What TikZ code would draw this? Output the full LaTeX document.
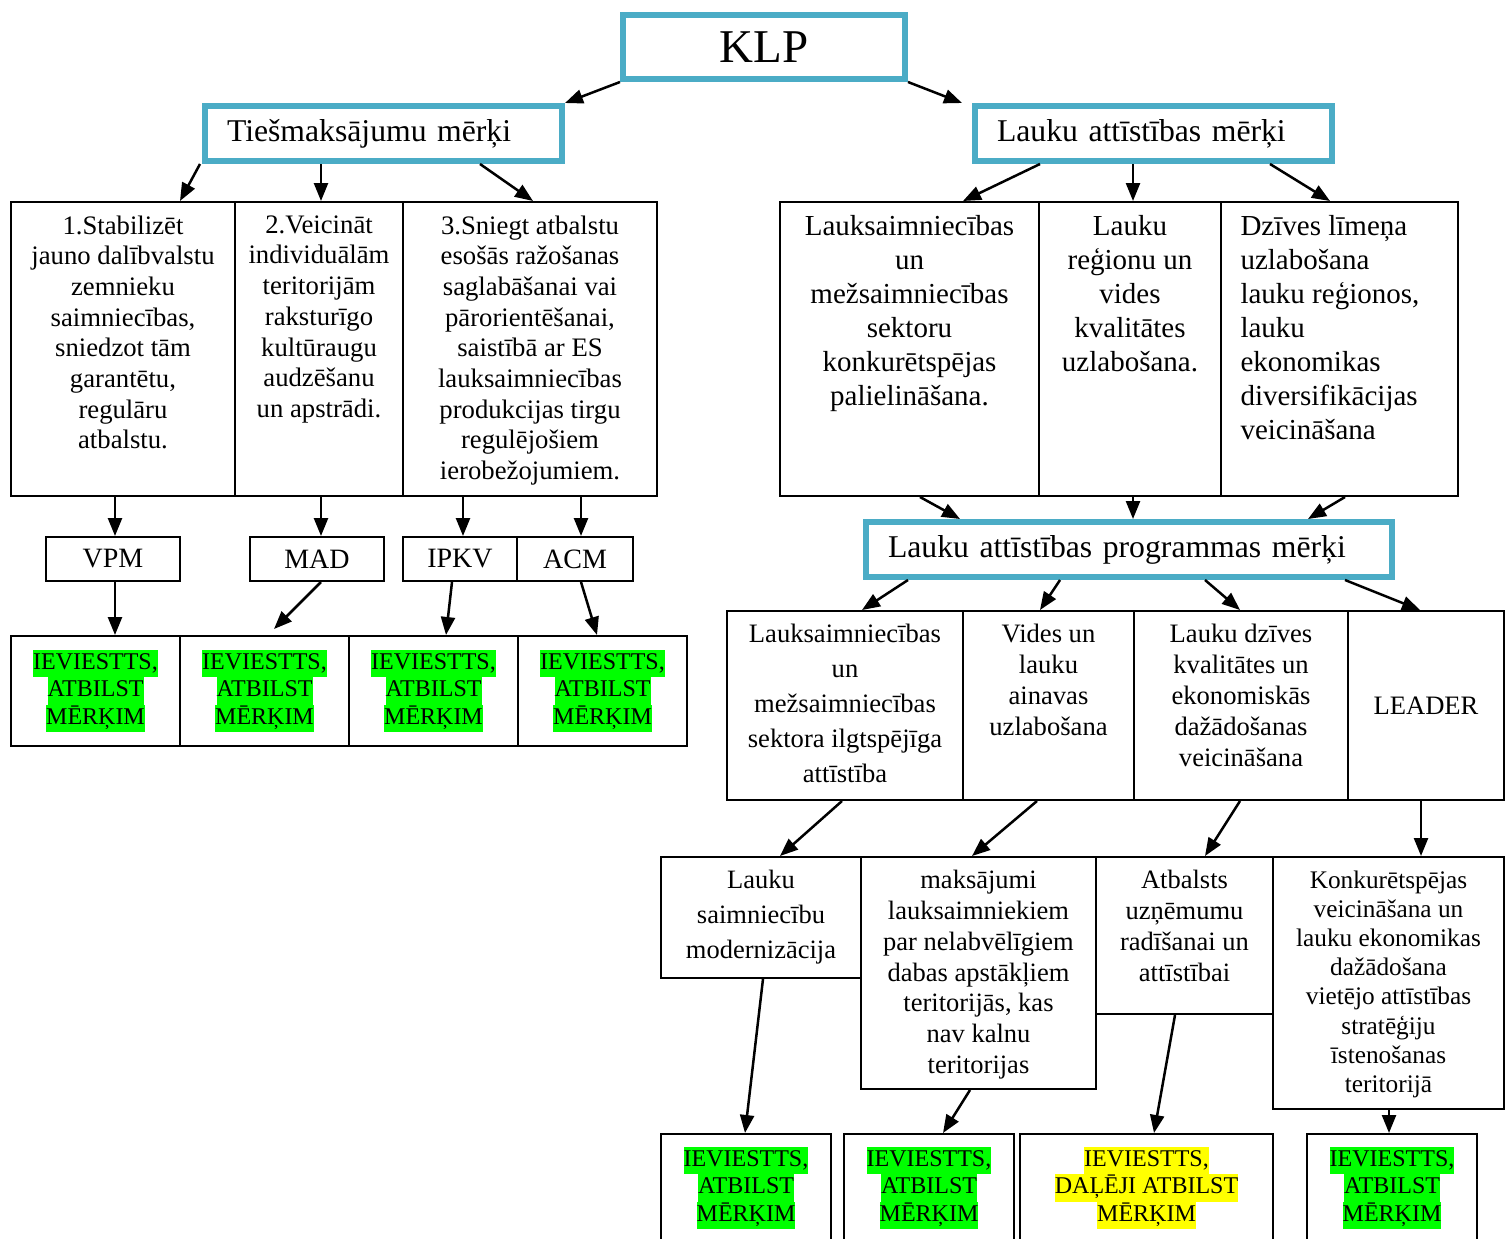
\documentclass[tikz,border=0pt]{standalone}
\usepackage{fontspec}
\setmainfont{Liberation Serif}
\usepackage{xcolor}
\usetikzlibrary{arrows.meta}

\definecolor{klpblue}{RGB}{75,172,198}
\definecolor{hlgreen}{RGB}{0,255,0}
\definecolor{hlyellow}{RGB}{255,255,0}

\newcommand{\hlg}[1]{{\setlength{\fboxsep}{0pt}\colorbox{hlgreen}{\strut #1}}}
\newcommand{\hly}[1]{{\setlength{\fboxsep}{0pt}\colorbox{hlyellow}{\strut #1}}}

\begin{document}
\begin{tikzpicture}[x=1pt, y=-1pt,
    cell/.style = {draw, line width=2pt, inner sep=0pt, anchor=north west},
    head/.style = {draw=klpblue, line width=6pt, anchor=west, align=left, inner xsep=22pt, inner ysep=4pt, minimum height=55pt, font=\fontsize{31.7}{36}\selectfont},
    txt/.style = {anchor=north, align=center},
    res/.style = {cell, align=center, minimum width=169pt, minimum height=110pt, font=\fontsize{24}{27.5}\selectfont},
    arr/.style = {-{Triangle[length=18pt,width=14pt]}, line width=2.5pt}]
    \useasboundingbox (0,0) rectangle (1512,1239);

    % top
    \node[draw=klpblue, line width=6pt, minimum width=282pt, minimum height=64pt, font=\fontsize{47}{54}\selectfont] (klp) at (764,47) {KLP};
    \node[head, text width=313pt] (tm) at (202,133.5) {Tiešmaksājumu mērķi};
    \node[head, text width=313pt] (la) at (972,133.5) {Lauku attīstības mērķi};

    % left branch
    \node[cell, minimum width=224pt, minimum height=294pt] (g1) at (10,201) {};
    \node[cell, minimum width=168pt, minimum height=294pt] (g2) at (234,201) {};
    \node[cell, minimum width=254pt, minimum height=294pt] (g3) at (402,201) {};
    \node[txt, font=\fontsize{26.7}{30.7}\selectfont] (g1t) at ([yshift=-11pt]g1.north) {1.Stabilizēt\\jauno dalībvalstu\\zemnieku\\saimniecības,\\sniedzot tām\\garantētu,\\regulāru\\atbalstu.};
    \node[txt, font=\fontsize{26.7}{30.7}\selectfont] (g2t) at ([yshift=-11pt]g2.north) {2.Veicināt\\individuālām\\teritorijām\\raksturīgo\\kultūraugu\\audzēšanu\\un apstrādi.};
    \node[txt, font=\fontsize{26.7}{30.7}\selectfont] (g3t) at ([yshift=-11pt]g3.north) {3.Sniegt atbalstu\\esošās ražošanas\\saglabāšanai vai\\pārorientēšanai,\\saistībā ar ES\\lauksaimniecības\\produkcijas tirgu\\regulējošiem\\ierobežojumiem.};

    \node[cell, minimum width=134pt, minimum height=44pt, font=\fontsize{28}{32}\selectfont] (vpm) at (45,536) {VPM};
    \node[cell, minimum width=134pt, minimum height=44pt, font=\fontsize{28}{32}\selectfont] (mad) at (249,536) {MAD};
    \node[cell, minimum width=114pt, minimum height=44pt, font=\fontsize{28}{32}\selectfont] (ipkv) at (402,536) {IPKV};
    \node[cell, minimum width=116pt, minimum height=44pt, font=\fontsize{28}{32}\selectfont] (acm) at (516,536) {ACM};

    \node[res] (r1) at (10,635) {\hlg{IEVIESTTS,}\\\hlg{ATBILST}\\\hlg{MĒRĶIM}};
    \node[res] (r2) at (179,635) {\hlg{IEVIESTTS,}\\\hlg{ATBILST}\\\hlg{MĒRĶIM}};
    \node[res] (r3) at (348,635) {\hlg{IEVIESTTS,}\\\hlg{ATBILST}\\\hlg{MĒRĶIM}};
    \node[res] (r4) at (517,635) {\hlg{IEVIESTTS,}\\\hlg{ATBILST}\\\hlg{MĒRĶIM}};

    % right branch
    \node[cell, minimum width=259pt, minimum height=294pt] (q1) at (779,201) {};
    \node[cell, minimum width=182pt, minimum height=294pt] (q2) at (1038,201) {};
    \node[cell, minimum width=237pt, minimum height=294pt] (q3) at (1220,201) {};
    \node[txt, font=\fontsize{29}{34}\selectfont] (q1t) at ([yshift=-11pt]q1.north) {Lauksaimniecības\\un\\mežsaimniecības\\sektoru\\konkurētspējas\\palielināšana.};
    \node[txt, font=\fontsize{29}{34}\selectfont] (q2t) at ([yshift=-11pt]q2.north) {Lauku\\reģionu un\\vides\\kvalitātes\\uzlabošana.};
    \node[anchor=north west, align=left, font=\fontsize{29}{34}\selectfont] (q3t) at ([xshift=17pt,yshift=-11pt]q3.north west) {Dzīves līmeņa\\uzlabošana\\lauku reģionos,\\lauku\\ekonomikas\\diversifikācijas\\veicināšana};

    \node[head, text width=482pt] (lap) at (863,549.5) {Lauku attīstības programmas mērķi};

    \node[cell, minimum width=236pt, minimum height=189pt] (p1) at (726,610) {};
    \node[cell, minimum width=171pt, minimum height=189pt] (p2) at (962,610) {};
    \node[cell, minimum width=214pt, minimum height=189pt] (p3) at (1133,610) {};
    \node[cell, minimum width=156pt, minimum height=189pt, font=\fontsize{26.6}{31}\selectfont] (p4) at (1347,610) {LEADER};
    \node[txt, font=\fontsize{26.6}{35}\selectfont] (p1t) at ([yshift=-11pt]p1.north) {Lauksaimniecības\\un\\mežsaimniecības\\sektora ilgtspējīga\\attīstība};
    \node[txt, font=\fontsize{26.6}{31}\selectfont] (p2t) at ([yshift=-11pt]p2.north) {Vides un\\lauku\\ainavas\\uzlabošana};
    \node[txt, font=\fontsize{26.6}{31}\selectfont] (p3t) at ([yshift=-11pt]p3.north) {Lauku dzīves\\kvalitātes un\\ekonomiskās\\dažādošanas\\veicināšana};

    \node[cell, minimum width=200pt, minimum height=121pt] (s1) at (660,856) {};
    \node[cell, minimum width=235pt, minimum height=232pt] (s2) at (860,856) {};
    \node[cell, minimum width=177pt, minimum height=157pt] (s3) at (1095,856) {};
    \node[cell, minimum width=231pt, minimum height=252pt] (s4) at (1272,856) {};
    \node[txt, font=\fontsize{26.5}{35}\selectfont] (s1t) at ([yshift=-11pt]s1.north) {Lauku\\saimniecību\\modernizācija};
    \node[txt, font=\fontsize{26.5}{30.7}\selectfont] (s2t) at ([yshift=-11pt]s2.north) {maksājumi\\lauksaimniekiem\\par nelabvēlīgiem\\dabas apstākļiem\\teritorijās, kas\\nav kalnu\\teritorijas};
    \node[txt, font=\fontsize{26.5}{30.7}\selectfont] (s3t) at ([yshift=-11pt]s3.north) {Atbalsts\\uzņēmumu\\radīšanai un\\attīstībai};
    \node[txt, font=\fontsize{25.3}{29.2}\selectfont] (s4t) at ([yshift=-11pt]s4.north) {Konkurētspējas\\veicināšana un\\lauku ekonomikas\\dažādošana\\vietējo attīstības\\stratēģiju\\īstenošanas\\teritorijā};

    \node[res, minimum width=170pt, minimum height=108pt] (b1) at (660,1133) {\hlg{IEVIESTTS,}\\\hlg{ATBILST}\\\hlg{MĒRĶIM}};
    \node[res, minimum width=170pt, minimum height=108pt] (b2) at (843,1133) {\hlg{IEVIESTTS,}\\\hlg{ATBILST}\\\hlg{MĒRĶIM}};
    \node[res, minimum width=253pt, minimum height=108pt] (b3) at (1019,1133) {\hly{IEVIESTTS,}\\\hly{DAĻĒJI ATBILST}\\\hly{MĒRĶIM}};
    \node[res, minimum width=170pt, minimum height=108pt] (b4) at (1306,1133) {\hlg{IEVIESTTS,}\\\hlg{ATBILST}\\\hlg{MĒRĶIM}};

    % arrows
    \draw[arr] (klp.south west) -- (tm.north east);
    \draw[arr] (klp.south east) -- ([xshift=-10pt]la.north west);
    \draw[arr] ([xshift=-2pt]tm.south west) -- ([xshift=170pt]g1.north west);
    \draw[arr] ([xshift=119pt]tm.south west) -- ([xshift=87pt]g2.north west);
    \draw[arr] ([xshift=278pt]tm.south west) -- ([xshift=131pt]g3.north west);
    \draw[arr] ([xshift=105pt]g1.south west) -- ([xshift=70pt]vpm.north west);
    \draw[arr] ([xshift=87pt]g2.south west) -- ([xshift=72pt]mad.north west);
    \draw[arr] ([xshift=61pt]g3.south west) -- ([xshift=61pt]ipkv.north west);
    \draw[arr] ([xshift=179pt]g3.south west) -- ([xshift=65pt]acm.north west);
    \draw[arr] ([xshift=70pt]vpm.south west) -- ([xshift=105pt]r1.north west);
    \draw[arr] ([xshift=72pt]mad.south west) -- ([xshift=95pt,yshift=6pt]r2.north west);
    \draw[arr] ([xshift=50pt]ipkv.south west) -- ([xshift=98pt]r3.north west);
    \draw[arr] ([xshift=65pt]acm.south west) -- ([xshift=80pt]r4.north west);

    \draw[arr] ([xshift=68pt]la.south west) -- ([xshift=184pt]q1.north west);
    \draw[arr] ([xshift=161pt]la.south west) -- ([xshift=95pt]q2.north west);
    \draw[arr] ([xshift=298pt]la.south west) -- ([xshift=110pt]q3.north west);
    \draw[arr] ([xshift=141pt]q1.south west) -- ([xshift=97pt]lap.north west);
    \draw[arr] ([xshift=95pt]q2.south west) -- ([xshift=270pt]lap.north west);
    \draw[arr] ([xshift=125pt]q3.south west) -- ([xshift=445pt]lap.north west);
    \draw[arr] ([xshift=45pt]lap.south west) -- ([xshift=136pt]p1.north west);
    \draw[arr] ([xshift=197pt]lap.south west) -- ([xshift=78pt]p2.north west);
    \draw[arr] ([xshift=342pt]lap.south west) -- ([xshift=107pt]p3.north west);
    \draw[arr] ([xshift=482pt]lap.south west) -- ([xshift=73pt]p4.north west);
    \draw[arr] ([xshift=116pt]p1.south west) -- ([xshift=120pt]s1.north west);
    \draw[arr] ([xshift=75pt]p2.south west) -- ([xshift=112pt]s2.north west);
    \draw[arr] ([xshift=107pt]p3.south west) -- ([xshift=110pt]s3.north west);
    \draw[arr] ([xshift=74pt]p4.south west) -- ([xshift=149pt]s4.north west);
    \draw[arr] ([xshift=103pt]s1.south west) -- ([xshift=85pt]b1.north west);
    \draw[arr] ([xshift=110pt]s2.south west) -- ([xshift=100pt]b2.north west);
    \draw[arr] ([xshift=80pt]s3.south west) -- ([xshift=135pt]b3.north west);
    \draw[arr] ([xshift=117pt]s4.south west) -- ([xshift=83pt]b4.north west);
\end{tikzpicture}
\end{document}
